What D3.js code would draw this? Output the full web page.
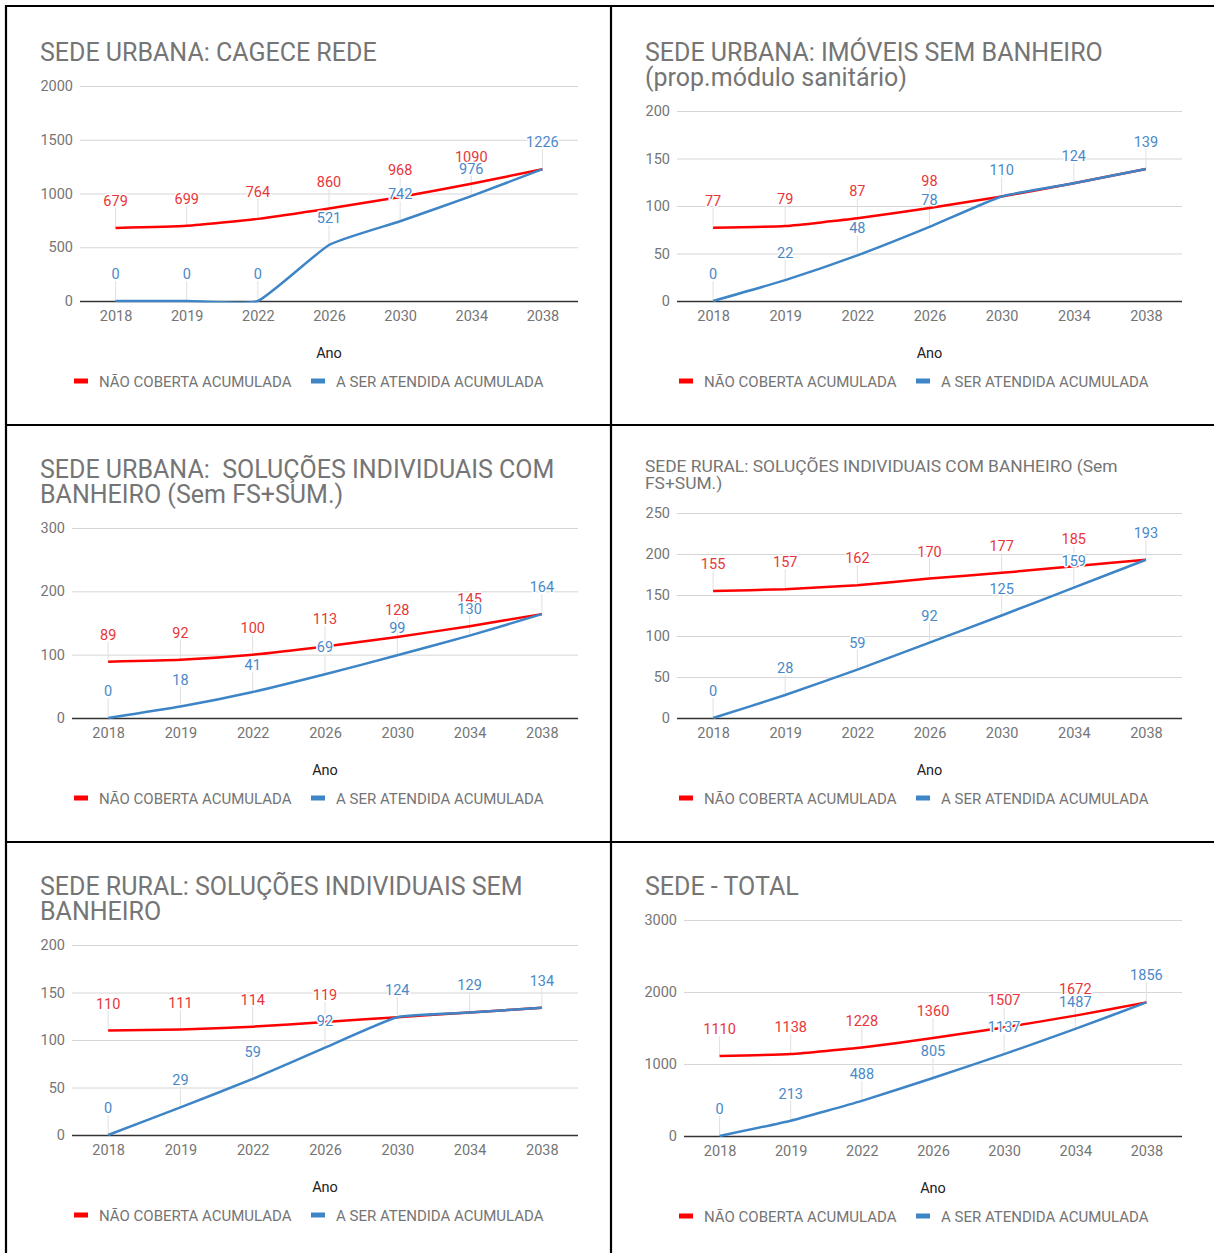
<!DOCTYPE html>
<html><head><meta charset="utf-8">
<script src="https://cdn.jsdelivr.net/npm/d3@7"></script>
<style>
html,body{margin:0;padding:0;background:#fff;}
text{font-family:Roboto,"Noto Sans",sans-serif;}
.title{white-space:pre;}
</style></head>
<body><svg id="c" width="1214" height="1253"></svg>
<script>
// ---------- DATA ----------
const years = ["2018","2019","2022","2026","2030","2034","2038"];
const seriesNames = ["NÃO COBERTA ACUMULADA","A SER ATENDIDA ACUMULADA"];
const xTitle = "Ano";

const titles1 = ["SEDE URBANA: CAGECE REDE"];
const naoCoberta1 = [679,699,764,860,968,1090,1226];
const aSerAtendida1 = [0,0,0,521,742,976,1226];
const yTicks1 = [0,500,1000,1500,2000];

const titles2 = ["SEDE URBANA: IMÓVEIS SEM BANHEIRO","(prop.módulo sanitário)"];
const naoCoberta2 = [77,79,87,98,110,124,139];
const aSerAtendida2 = [0,22,48,78,110,124,139];
const yTicks2 = [0,50,100,150,200];

const titles3 = ["SEDE URBANA:  SOLUÇÕES INDIVIDUAIS COM","BANHEIRO (Sem FS+SUM.)"];
const naoCoberta3 = [89,92,100,113,128,145,164];
const aSerAtendida3 = [0,18,41,69,99,130,164];
const yTicks3 = [0,100,200,300];

const titles4 = ["SEDE RURAL: SOLUÇÕES INDIVIDUAIS COM BANHEIRO (Sem","FS+SUM.)"];
const naoCoberta4 = [155,157,162,170,177,185,193];
const aSerAtendida4 = [0,28,59,92,125,159,193];
const yTicks4 = [0,50,100,150,200,250];

const titles5 = ["SEDE RURAL: SOLUÇÕES INDIVIDUAIS SEM","BANHEIRO"];
const naoCoberta5 = [110,111,114,119,124,129,134];
const aSerAtendida5 = [0,29,59,92,124,129,134];
const yTicks5 = [0,50,100,150,200];

const titles6 = ["SEDE - TOTAL"];
const naoCoberta6 = [1110,1138,1228,1360,1507,1672,1856];
const aSerAtendida6 = [0,213,488,805,1137,1487,1856];
const yTicks6 = [0,1000,2000,3000];

// ---------- LAYOUT ----------
const colors = {red:"#ff0000", blue:"#3d85c6", redText:"#e8363a", blueText:"#4a89c8", grey:"#757575"};
const panels = [
  {titles:titles1, red:naoCoberta1, blue:aSerAtendida1, ticks:yTicks1, ox:6,   oy:6,   tSize:25, tBase:[61],      left:80,  right:578,  top:86,  bottom:301},
  {titles:titles2, red:naoCoberta2, blue:aSerAtendida2, ticks:yTicks2, ox:611, oy:6,   tSize:25, tBase:[61,86],   left:677, right:1182, top:111, bottom:301},
  {titles:titles3, red:naoCoberta3, blue:aSerAtendida3, ticks:yTicks3, ox:6,   oy:425, tSize:25, tBase:[478,503], left:72,  right:578,  top:528, bottom:718},
  {titles:titles4, red:naoCoberta4, blue:aSerAtendida4, ticks:yTicks4, ox:611, oy:425, tSize:17.4, tBase:[472,489], left:677, right:1182, top:513, bottom:718},
  {titles:titles5, red:naoCoberta5, blue:aSerAtendida5, ticks:yTicks5, ox:6,   oy:842, tSize:25, tBase:[895,920], left:72,  right:578,  top:945, bottom:1135},
  {titles:titles6, red:naoCoberta6, blue:aSerAtendida6, ticks:yTicks6, ox:611, oy:842, tSize:25, tBase:[895],     left:684, right:1182, top:920, bottom:1136}
];

const svg = d3.select("#c");
const defs = svg.append("defs");

panels.forEach((p, k) => {
  const g = svg.append("g");
  p.titles.forEach((t,i) => {
    g.append("text").attr("class","title").attr("x", p.ox+34).attr("y", p.tBase[i])
      .attr("font-size", p.tSize).attr("fill", colors.grey).text(t);
  });
  const x = d3.scalePoint().domain(years).range([p.left, p.right]).padding(0.5);
  const y = d3.scaleLinear().domain([0, d3.max(p.ticks)]).range([p.bottom, p.top]);

  defs.append("clipPath").attr("id","clip"+k).append("rect")
    .attr("x", p.left).attr("y", p.top-2).attr("width", p.right-p.left).attr("height", p.bottom-p.top+3.5);

  const ya = g.append("g").attr("transform", `translate(${p.left},0)`)
    .call(d3.axisLeft(y).tickValues(p.ticks).tickSize(-(p.right-p.left)).tickPadding(7).tickFormat(d3.format("d")));
  ya.select(".domain").remove();
  ya.selectAll(".tick line").attr("stroke", d => d===0 ? "#333" : "#d6d6d6").attr("stroke-width", d => d===0 ? 1.6 : 1);
  ya.selectAll(".tick text").attr("font-size", 14.5).attr("fill", colors.grey).attr("font-family","Roboto");

  const xa = g.append("g").attr("transform", `translate(0,${p.bottom})`)
    .call(d3.axisBottom(x).tickSize(0).tickPadding(10));
  xa.select(".domain").remove();
  xa.selectAll(".tick text").attr("font-size", 14.5).attr("fill", colors.grey).attr("font-family","Roboto");

  g.append("text").attr("x", (p.left+p.right)/2).attr("y", p.bottom+57)
    .attr("text-anchor","middle").attr("font-size",14.5).attr("fill","#222").text(xTitle);

  const ly = p.bottom + 80;
  [[colors.red,0],[colors.blue,237]].forEach(([c,dx],i) => {
    g.append("rect").attr("x", p.ox+68+dx).attr("y", ly-2.5).attr("width",14).attr("height",5).attr("fill",c);
    g.append("text").attr("x", p.ox+93+dx).attr("y", ly+5.5).attr("font-size",15).attr("fill",colors.grey).text(seriesNames[i]);
  });

  const all = [];
  p.red.forEach((v,i) => { if (v !== p.blue[i]) all.push({v, yr:years[i], c:colors.redText}); });
  p.blue.forEach((v,i) => all.push({v, yr:years[i], c:colors.blueText}));
  g.selectAll(null).data(all).enter().append("line")
    .attr("x1", d => x(d.yr)).attr("x2", d => x(d.yr))
    .attr("y1", d => y(d.v)).attr("y2", d => y(d.v)-20)
    .attr("stroke","#e0e0e0").attr("stroke-width",1);

  const lg = g.append("g").attr("clip-path", `url(#clip${k})`);
  const line = d3.line().x((d,i)=>x(years[i])).y(d=>y(d)).curve(d3.curveCardinal.tension(0.55));
  lg.append("path").datum(p.red).attr("d", line).attr("fill","none").attr("stroke",colors.red).attr("stroke-width",2.5);
  lg.append("path").datum(p.blue).attr("d", line).attr("fill","none").attr("stroke",colors.blue).attr("stroke-width",2.5);

  g.selectAll(null).data(all).enter().append("text")
    .attr("x", d => x(d.yr)).attr("y", d => y(d.v)-22)
    .attr("text-anchor","middle").attr("font-size",14.5)
    .attr("fill", d => d.c).attr("stroke","#fff").attr("stroke-width",3)
    .attr("stroke-linejoin","round").attr("paint-order","stroke")
    .text(d => d.v);
});

const bl = [[5,6,1214,6],[6,5,6,1253],[611,6,611,1253],[5,425,1214,425],[5,842,1214,842]];
svg.selectAll(null).data(bl).enter().append("line")
  .attr("x1",d=>d[0]).attr("y1",d=>d[1]).attr("x2",d=>d[2]).attr("y2",d=>d[3])
  .attr("stroke","#000").attr("stroke-width",2.2);
</script></body></html>
